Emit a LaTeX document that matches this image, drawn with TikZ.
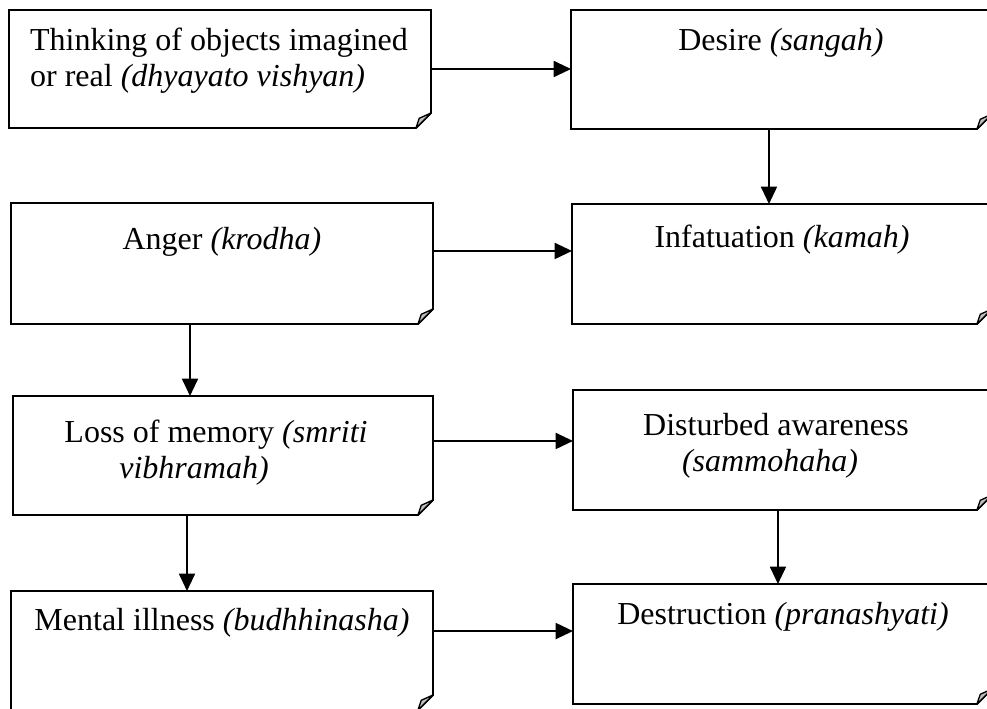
\documentclass[tikz,border=0pt]{standalone}
\usepackage{fontspec}
\setmainfont{Liberation Serif}
\usetikzlibrary{arrows.meta}
\newcommand\mkbox[5]{\node[boxarea, minimum width={(#4-#2)*0.75pt}, minimum height={(#5-#3)*0.75pt}] (#1) at (#2,#3) {};}
\newcommand\foldoutline[1]{%
  \draw[boxline] (#1.north west) -- (#1.north east) -- ([yshift=11.25pt]#1.south east) -- ([xshift=-11.25pt]#1.south east) -- (#1.south west) -- cycle;
  \draw[foldfill] ([xshift=-11.25pt]#1.south east) -- ([xshift=-8.8pt,yshift=7.3pt]#1.south east) -- ([yshift=11.25pt]#1.south east) -- cycle;}
\begin{document}
\begin{tikzpicture}[x=0.75pt,y=-0.75pt,
  boxarea/.style={draw=none, inner sep=0pt, outer sep=0pt, anchor=north west},
  boxline/.style={line width=1.4pt, line join=miter},
  foldfill/.style={fill=black!25, draw=black, line width=1pt, line join=round},
  lbl/.style={font=\fontsize{24pt}{27pt}\selectfont, inner sep=0pt, anchor=base, align=center},
  arr/.style={line width=1.4pt, -{Triangle[length=13pt,width=12pt]}}]
\useasboundingbox (0,0) rectangle (987,709);

\mkbox{B1}{9}{10}{431}{128}
\mkbox{B2}{571}{10}{992}{129}
\mkbox{B3}{11}{203}{433}{324}
\mkbox{B4}{572}{204}{992}{324}
\mkbox{B5}{13}{396}{433}{515}
\mkbox{B6}{573}{390}{992}{510}
\mkbox{B7}{11}{591}{433}{710}
\mkbox{B8}{573}{584}{992}{704}

\foreach \b in {B1,B2,B3,B4,B5,B6,B7,B8} {\foldoutline{\b}}

% multi-line nodes: base anchor sits on the last line
\node[lbl, align=left] (T1) at (219,87) {Thinking of objects imagined\\or real \textit{(dhyayato vishyan)}};
\node[lbl] (T2) at (781,51) {Desire \textit{(sangah)}};
\node[lbl] (T3) at (222,249) {Anger \textit{(krodha)}};
\node[lbl] (T4) at (782,247) {Infatuation \textit{(kamah)}};
\node[lbl] (T5) at (216,478) {Loss of memory \textit{(smriti}\\\textit{vibhramah)}\hspace*{33pt}};
\node[lbl] (T6) at (776,471) {Disturbed awareness\\\textit{(sammohaha)}\hspace*{9pt}};
\node[lbl] (T7) at (222,630) {Mental illness \textit{(budhhinasha)}};
\node[lbl] (T8) at (783,624) {Destruction \textit{(pranashyati)}};

\draw[arr] (B1.east) -- (B1.east -| B2.west);
\draw[arr] ([xshift=-9.4pt]B2.south) -- ([xshift=-9.4pt]B2.south |- B4.north);
\draw[arr] ([yshift=9.4pt]B3.east) -- ([yshift=9.4pt]B3.east -| B4.west);
\draw[arr] ([xshift=-24pt]B3.south) -- ([xshift=-24pt]B3.south |- B5.north);
\draw[arr] ([yshift=10.9pt]B5.east) -- ([yshift=10.9pt]B5.east -| B6.west);
\draw[arr] ([xshift=-3.4pt]B6.south) -- ([xshift=-3.4pt]B6.south |- B8.north);
\draw[arr] ([xshift=-27pt]B5.south) -- ([xshift=-27pt]B5.south |- B7.north);
\draw[arr] ([yshift=14.6pt]B7.east) -- ([yshift=14.6pt]B7.east -| B8.west);
\end{tikzpicture}
\end{document}
